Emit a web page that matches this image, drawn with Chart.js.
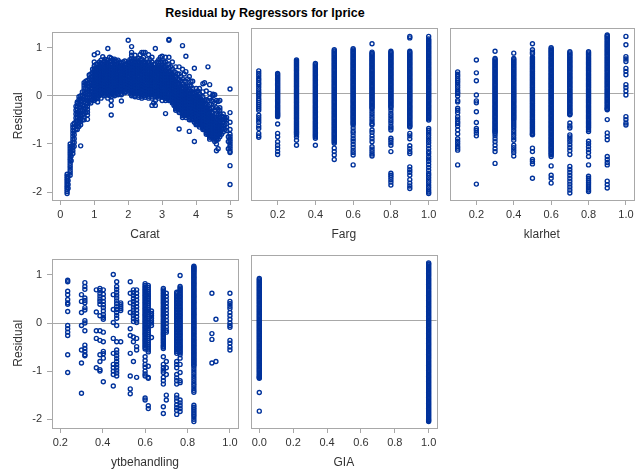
<!DOCTYPE html>
<html><head><meta charset="utf-8">
<script src="https://cdn.jsdelivr.net/npm/chart.js@4.4.1/dist/chart.umd.min.js"></script>
<style>
html,body{margin:0;padding:0;background:#fff;overflow:hidden}
body{width:636px;height:474px;position:relative;font-family:"Liberation Sans",Arial,sans-serif}
#title{position:absolute;left:0;width:530px;top:6px;text-align:center;font-weight:bold;font-size:12.5px;line-height:15px;color:#000}
canvas{position:absolute}
</style></head>
<body>
<div id="title">Residual by Regressors for lprice</div>
<canvas id="p1" width="245" height="230" style="left:0;top:20px"></canvas>
<canvas id="p2" width="195" height="230" style="left:245px;top:20px"></canvas>
<canvas id="p3" width="197" height="230" style="left:440px;top:20px"></canvas>
<canvas id="p4" width="245" height="227" style="left:0;top:247px"></canvas>
<canvas id="p5" width="195" height="227" style="left:245px;top:247px"></canvas>
<script>
// ---------- tick values / labels ----------
const yTicks = [-2, -1, 0, 1];
const yTickLabels = ['-2', '-1', '0', '1'];
const caratTicks = [0, 1, 2, 3, 4, 5];
const caratTickLabels = ['0', '1', '2', '3', '4', '5'];
const fracTicks = [0.2, 0.4, 0.6, 0.8, 1.0];
const fracTickLabels = ['0.2', '0.4', '0.6', '0.8', '1.0'];
const giaTicks = [0, 0.2, 0.4, 0.6, 0.8, 1.0];
const giaTickLabels = ['0.0', '0.2', '0.4', '0.6', '0.8', '1.0'];
const xTitles = ['Carat', 'Farg', 'klarhet', 'ytbehandling', 'GIA'];
const yTitle = 'Residual';
const chartTitle = 'Residual by Regressors for lprice';

// ---------- residuals, grouped by regressor value: [x, [residuals]] ----------
const caratCols = [
 [0.2,[-2.03,-1.99,-1.95,-1.91,-1.87,-1.83,-1.79,-1.75,-1.71,-1.67,-1.63]],
 [0.23,[-1.92,-1.84,-1.76,-1.68]],
 [0.29,[-1.65,-1.6,-1.55,-1.5,-1.45,-1.4,-1.35,-1.3,-1.25,-1.2,-1.15,-1.1,-1.05,-1.0]],
 [0.32,[-1.35,-1.25,-1.15,-1.05]],
 [0.37,[-1.2,-1.14,-1.08,-1.02,-0.96,-0.9,-0.84,-0.78,-0.72,-0.66,-0.6]],
 [0.41,[-1.05,-0.97,-0.89,-0.81,-0.73,-0.65,-0.57]],
 [0.46,[-0.7,-0.62,-0.54,-0.46,-0.38,-0.3,-0.22]],
 [0.5,[-0.7,-0.64,-0.58,-0.52,-0.46,-0.4,-0.34,-0.28,-0.22,-0.16,-0.13]],
 [0.55,[-0.64,-0.56,-0.48,-0.4,-0.32,-0.24,-0.16,-0.08,-0.02]],
 [0.6,[-1.04,-0.6,-0.54,-0.48,-0.42,-0.36,-0.3,-0.24,-0.18,-0.12,-0.06,0.0]],
 [0.65,[-0.5,-0.4,-0.3,-0.2,-0.1,0.0,0.08]],
 [0.7,[-0.5,-0.44,-0.38,-0.32,-0.26,-0.2,-0.14,-0.08,-0.02,0.04,0.1,0.16,0.22,0.27]],
 [0.75,[-0.35,-0.25,-0.15,-0.05,0.05,0.15,0.25,0.3]],
 [0.8,[-0.49,-0.4,-0.34,-0.28,-0.22,-0.16,-0.1,-0.04,0.02,0.08,0.14,0.2,0.26,0.32]],
 [0.85,[-0.13,-0.05,0.03,0.11,0.19,0.27,0.35,0.43]],
 [0.9,[-0.15,-0.09,-0.03,0.03,0.09,0.15,0.21,0.27,0.33,0.39,0.45]],
 [0.95,[-0.08,0.0,0.08,0.16,0.24,0.32,0.4,0.48,0.55]],
 [1.0,[-0.1,-0.04,0.02,0.08,0.14,0.2,0.26,0.32,0.38,0.44,0.5,0.56,0.62,0.7,0.85]],
 [1.05,[-0.05,0.05,0.15,0.25,0.35,0.45,0.55,0.65]],
 [1.1,[-0.13,-0.06,0.0,0.06,0.12,0.18,0.24,0.3,0.36,0.42,0.48,0.54,0.6,0.66,0.89]],
 [1.15,[0.0,0.1,0.2,0.3,0.4,0.5,0.6,0.7]],
 [1.2,[-0.05,0.02,0.08,0.14,0.2,0.26,0.32,0.38,0.44,0.5,0.56,0.62,0.68,0.74]],
 [1.25,[0.05,0.15,0.25,0.35,0.45,0.55,0.65,0.81]],
 [1.3,[0.0,0.06,0.12,0.18,0.24,0.3,0.36,0.42,0.48,0.54,0.6,0.66,0.72,0.76]],
 [1.35,[0.05,0.15,0.25,0.35,0.45,0.55,0.65,0.75]],
 [1.4,[-0.05,0.02,0.08,0.14,0.2,0.26,0.32,0.38,0.44,0.5,0.56,0.62,0.68,0.74,0.98]],
 [1.45,[0.0,0.1,0.2,0.3,0.4,0.5,0.6,0.7,0.8]],
 [1.5,[-0.4,-0.2,-0.1,-0.02,0.06,0.12,0.18,0.24,0.3,0.36,0.42,0.48,0.54,0.6,0.66,0.72,0.78]],
 [1.55,[0.05,0.15,0.25,0.35,0.45,0.55,0.65,0.75]],
 [1.6,[0.0,0.06,0.12,0.18,0.24,0.3,0.36,0.42,0.48,0.54,0.6,0.66,0.72,0.76]],
 [1.65,[0.05,0.15,0.25,0.35,0.45,0.55,0.65,0.72]],
 [1.7,[0.02,0.08,0.14,0.2,0.26,0.32,0.38,0.44,0.5,0.56,0.62,0.68,0.74]],
 [1.75,[0.1,0.2,0.3,0.4,0.5,0.6,0.7]],
 [1.8,[-0.11,0.02,0.08,0.14,0.2,0.26,0.32,0.38,0.44,0.5,0.56,0.62,0.68]],
 [1.85,[0.1,0.2,0.3,0.4,0.5,0.6,0.7]],
 [1.9,[0.06,0.12,0.18,0.24,0.3,0.36,0.42,0.48,0.54,0.6,0.66,0.72]],
 [1.95,[0.15,0.25,0.35,0.45,0.55,0.65]],
 [2.0,[0.1,0.16,0.22,0.28,0.34,0.4,0.46,0.52,0.58,0.64,0.7,1.15]],
 [2.05,[0.05,0.15,0.25,0.35,0.45,0.55,0.65,0.75]],
 [2.1,[0.0,0.06,0.12,0.18,0.24,0.3,0.36,0.42,0.48,0.54,0.6,0.66,0.72,0.78,0.84,0.9,1.02]],
 [2.15,[0.05,0.15,0.25,0.35,0.45,0.55,0.65,0.75]],
 [2.2,[-0.02,0.04,0.1,0.16,0.22,0.28,0.34,0.4,0.46,0.52,0.58,0.64,0.7,0.76,0.84]],
 [2.25,[0.05,0.15,0.25,0.35,0.45,0.55,0.65,0.75]],
 [2.3,[-0.03,0.04,0.1,0.16,0.22,0.28,0.34,0.4,0.46,0.52,0.58,0.64,0.7,0.78]],
 [2.35,[0.05,0.15,0.25,0.35,0.45,0.55,0.65,0.75,0.85]],
 [2.4,[-0.05,0.02,0.08,0.14,0.2,0.26,0.32,0.38,0.44,0.5,0.56,0.62,0.68,0.76,0.9]],
 [2.45,[0.0,0.1,0.2,0.3,0.4,0.5,0.6,0.7,0.8,0.9]],
 [2.5,[-0.03,0.04,0.1,0.16,0.22,0.28,0.34,0.4,0.46,0.52,0.58,0.64,0.7,0.9]],
 [2.55,[0.05,0.15,0.25,0.35,0.45,0.55,0.65,0.75]],
 [2.6,[-0.05,0.02,0.08,0.14,0.2,0.26,0.32,0.38,0.44,0.5,0.56,0.62,0.7,0.85]],
 [2.65,[0.05,0.15,0.25,0.35,0.45,0.55,0.65,0.75]],
 [2.7,[-0.2,-0.05,0.02,0.08,0.14,0.2,0.26,0.32,0.38,0.44,0.5,0.56,0.62,0.7,0.8]],
 [2.75,[-0.15,0.05,0.15,0.25,0.35,0.45,0.55,0.65]],
 [2.8,[-0.2,-0.1,-0.02,0.04,0.1,0.16,0.22,0.28,0.34,0.4,0.46,0.52,0.58,0.66,0.98]],
 [2.85,[0.0,0.1,0.2,0.3,0.4,0.5,0.6,0.7]],
 [2.9,[-0.05,0.02,0.08,0.14,0.2,0.26,0.32,0.38,0.44,0.5,0.56,0.62,0.7,0.75]],
 [2.95,[0.0,0.1,0.2,0.3,0.4,0.5,0.6,0.7,0.8]],
 [3.0,[-0.1,-0.03,0.03,0.09,0.15,0.21,0.27,0.33,0.39,0.45,0.51,0.57,0.63,0.7,0.82]],
 [3.05,[0.0,0.1,0.2,0.3,0.4,0.5,0.6,0.7]],
 [3.1,[-0.37,-0.1,-0.03,0.03,0.09,0.15,0.21,0.27,0.33,0.39,0.45,0.51,0.6,0.7,0.8]],
 [3.15,[-0.05,0.05,0.15,0.25,0.35,0.45,0.55,0.65]],
 [3.2,[-0.1,-0.04,0.02,0.08,0.14,0.2,0.26,0.32,0.38,0.44,0.5,0.58,0.66,0.8,1.15,1.17]],
 [3.25,[-0.1,0.0,0.1,0.2,0.3,0.4,0.5,0.6]],
 [3.3,[-0.15,-0.09,-0.03,0.03,0.09,0.15,0.21,0.27,0.33,0.39,0.45,0.55,0.7]],
 [3.35,[-0.2,-0.1,0.0,0.1,0.2,0.3,0.4,0.5]],
 [3.4,[-0.3,-0.24,-0.18,-0.12,-0.06,0.0,0.06,0.12,0.18,0.24,0.3,0.38,0.48,0.6]],
 [3.45,[-0.25,-0.15,-0.05,0.05,0.15,0.25,0.35,0.45]],
 [3.5,[-0.69,-0.35,-0.29,-0.23,-0.17,-0.11,-0.05,0.01,0.07,0.13,0.19,0.25,0.33,0.45,0.6]],
 [3.55,[-0.3,-0.2,-0.1,0.0,0.1,0.2,0.3,0.4]],
 [3.6,[-0.45,-0.38,-0.32,-0.26,-0.2,-0.14,-0.08,-0.02,0.04,0.1,0.16,0.24,0.35,0.55,1.04]],
 [3.65,[-0.4,-0.3,-0.2,-0.1,0.0,0.1,0.2,0.3,0.45]],
 [3.7,[-0.45,-0.38,-0.32,-0.26,-0.2,-0.14,-0.08,-0.02,0.04,0.1,0.18,0.3,0.5,0.82]],
 [3.75,[-0.4,-0.3,-0.2,-0.1,0.0,0.1,0.2,0.35]],
 [3.8,[-0.74,-0.5,-0.43,-0.37,-0.31,-0.25,-0.19,-0.13,-0.07,-0.01,0.05,0.12,0.22,0.4]],
 [3.85,[-0.5,-0.4,-0.3,-0.2,-0.1,0.0,0.1,0.2,0.3]],
 [3.9,[-0.5,-0.44,-0.38,-0.32,-0.26,-0.2,-0.14,-0.08,-0.02,0.05,0.15,0.3]],
 [3.95,[-0.95,-0.55,-0.45,-0.35,-0.25,-0.15,-0.05,0.05,0.57]],
 [4.0,[-0.6,-0.54,-0.48,-0.42,-0.36,-0.3,-0.24,-0.18,-0.12,-0.06,0.0,0.08,0.15]],
 [4.05,[-0.6,-0.5,-0.4,-0.3,-0.2,-0.1,0.0,0.1]],
 [4.1,[-0.65,-0.58,-0.52,-0.46,-0.4,-0.34,-0.28,-0.22,-0.16,-0.1,-0.04,0.04,0.15]],
 [4.15,[-0.6,-0.5,-0.4,-0.3,-0.2,-0.1,0.0]],
 [4.2,[-0.7,-0.64,-0.58,-0.52,-0.46,-0.4,-0.34,-0.28,-0.22,-0.16,-0.1,-0.02,0.08,0.25]],
 [4.25,[-0.7,-0.6,-0.5,-0.4,-0.3,-0.2,-0.1,0.27]],
 [4.3,[-0.8,-0.73,-0.67,-0.61,-0.55,-0.49,-0.43,-0.37,-0.31,-0.25,-0.18,-0.08,0.1]],
 [4.35,[-0.8,-0.7,-0.6,-0.5,-0.4,-0.3,-0.2,-0.1,0.6]],
 [4.4,[-0.9,-0.83,-0.77,-0.71,-0.65,-0.59,-0.53,-0.47,-0.41,-0.35,-0.28,-0.18,-0.05,0.05,0.23]],
 [4.45,[-0.85,-0.75,-0.65,-0.55,-0.45,-0.35,-0.25,-0.1]],
 [4.5,[-0.9,-0.84,-0.78,-0.72,-0.66,-0.6,-0.54,-0.48,-0.42,-0.35,-0.25,-0.12,0.0,0.03]],
 [4.55,[-0.95,-0.85,-0.75,-0.65,-0.55,-0.45,-0.3,-0.15,0.02]],
 [4.6,[-1.14,-1.0,-0.92,-0.86,-0.8,-0.74,-0.68,-0.62,-0.56,-0.48,-0.38,-0.25,-0.1]],
 [4.65,[-1.1,-0.9,-0.8,-0.7,-0.6,-0.5,-0.4,-0.28,-0.12]],
 [4.7,[-0.85,-0.78,-0.72,-0.66,-0.6,-0.54,-0.46,-0.38,-0.3,-0.25,-0.1]],
 [4.75,[-0.8,-0.7,-0.6,-0.5,-0.42]],
 [4.8,[-0.75,-0.68,-0.62,-0.56,-0.5,-0.44,-0.38]],
 [4.85,[-0.7,-0.6,-0.5,-0.46]],
 [4.9,[-0.72,-0.65,-0.58,-0.5,-0.45]],
 [4.95,[-0.85,-0.95,-1.1]],
 [5.0,[0.14,-0.35,-0.55,-0.7,-0.8,-0.85,-0.9,-0.95,-1.0,-1.05,-1.1,-1.15,-1.18,-1.45,-1.84]]
];
// further observations packed inside the dense core of the carat cloud
const caratDense = [
 [1.0,[-0.07,-0.01,0.05,0.11,0.17,0.23,0.29,0.35,0.41,0.47,0.53]],
 [1.1,[-0.03,0.03,0.09,0.15,0.21,0.27,0.33,0.39,0.45,0.51,0.57]],
 [1.2,[0.05,0.11,0.17,0.23,0.29,0.35,0.41,0.47,0.53,0.59,0.65]],
 [1.3,[0.03,0.09,0.15,0.21,0.27,0.33,0.39,0.45,0.51,0.57,0.63]],
 [1.4,[0.05,0.11,0.17,0.23,0.29,0.35,0.41,0.47,0.53,0.59,0.65]],
 [1.5,[0.03,0.09,0.15,0.21,0.27,0.33,0.39,0.45,0.51,0.57,0.63]],
 [1.6,[0.03,0.09,0.15,0.21,0.27,0.33,0.39,0.45,0.51,0.57,0.63]],
 [1.7,[0.05,0.11,0.17,0.23,0.29,0.35,0.41,0.47,0.53,0.59,0.65]],
 [1.8,[0.05,0.11,0.17,0.23,0.29,0.35,0.41,0.47,0.53,0.59]],
 [1.9,[0.09,0.15,0.21,0.27,0.33,0.39,0.45,0.51,0.57,0.63]],
 [2.0,[0.13,0.19,0.25,0.31,0.37,0.43,0.49,0.55,0.61,0.67]],
 [2.1,[0.03,0.09,0.15,0.21,0.27,0.33,0.39,0.45,0.51,0.57,0.63,0.69]],
 [2.2,[0.01,0.07,0.13,0.19,0.25,0.31,0.37,0.43,0.49,0.55,0.61,0.67]],
 [2.3,[0.01,0.07,0.13,0.19,0.25,0.31,0.37,0.43,0.49,0.55,0.61,0.67]],
 [2.4,[-0.01,0.05,0.11,0.17,0.23,0.29,0.35,0.41,0.47,0.53,0.59,0.65]],
 [2.5,[0.01,0.07,0.13,0.19,0.25,0.31,0.37,0.43,0.49,0.55,0.61,0.67]],
 [2.6,[-0.01,0.05,0.11,0.17,0.23,0.29,0.35,0.41,0.47,0.53,0.59]],
 [2.7,[-0.01,0.05,0.11,0.17,0.23,0.29,0.35,0.41,0.47,0.53,0.59]],
 [2.8,[0.01,0.07,0.13,0.19,0.25,0.31,0.37,0.43,0.49,0.55]],
 [2.9,[-0.01,0.05,0.11,0.17,0.23,0.29,0.35,0.41,0.47,0.53,0.59]],
 [3.0,[0.0,0.06,0.12,0.18,0.24,0.3,0.36,0.42,0.48,0.54,0.6]],
 [3.1,[-0.06,0.0,0.06,0.12,0.18,0.24,0.3,0.36,0.42,0.48]],
 [3.2,[-0.07,-0.01,0.05,0.11,0.17,0.23,0.29,0.35,0.41,0.47]],
 [3.3,[-0.12,-0.06,0.0,0.06,0.12,0.18,0.24,0.3,0.36,0.42]],
 [3.4,[-0.27,-0.21,-0.15,-0.09,-0.03,0.03,0.09,0.15,0.21,0.27,0.33]],
 [3.5,[-0.32,-0.26,-0.2,-0.14,-0.08,-0.02,0.04,0.1,0.16,0.22]],
 [3.6,[-0.41,-0.35,-0.29,-0.23,-0.17,-0.11,-0.05,0.01,0.07,0.13]],
 [3.7,[-0.41,-0.35,-0.29,-0.23,-0.17,-0.11,-0.05,0.01,0.07,0.14]],
 [3.8,[-0.46,-0.4,-0.34,-0.28,-0.22,-0.16,-0.1,-0.04,0.02,0.08]],
 [3.9,[-0.47,-0.41,-0.35,-0.29,-0.23,-0.17,-0.11,-0.05,0.02]],
 [4.0,[-0.57,-0.51,-0.45,-0.39,-0.33,-0.27,-0.21,-0.15,-0.09,-0.03,0.04]],
 [4.1,[-0.61,-0.55,-0.49,-0.43,-0.37,-0.31,-0.25,-0.19,-0.13,-0.07]],
 [4.2,[-0.67,-0.61,-0.55,-0.49,-0.43,-0.37,-0.31,-0.25,-0.19,-0.13]],
 [4.3,[-0.76,-0.7,-0.64,-0.58,-0.52,-0.46,-0.4,-0.34,-0.28]],
 [4.4,[-0.86,-0.8,-0.74,-0.68,-0.62,-0.56,-0.5,-0.44,-0.38]],
 [4.5,[-0.87,-0.81,-0.75,-0.69,-0.63,-0.57,-0.51,-0.45]],
 [4.6,[-0.89,-0.83,-0.77,-0.71,-0.65,-0.59,-0.52]],
 [4.7,[-0.81,-0.75,-0.69,-0.63,-0.57,-0.5]]
];

const fargCols = [
 [0.1,[0.46,0.41,0.36,0.31,0.27,0.22,0.18,0.13,0.08,0.03,-0.01,-0.05,-0.1,-0.14,-0.18,-0.22,-0.26,-0.3,-0.34,-0.44,-0.49,-0.54,-0.59,-0.66,-0.71,-0.81,-0.86,-0.89]],
 [0.2,[0.41,0.36,0.31,0.26,0.21,0.16,0.11,0.06,0.01,-0.04,-0.09,-0.14,-0.19,-0.24,-0.29,-0.34,-0.39,-0.43,-0.47,-0.62,-0.81,-0.88,-0.98,-1.05,-1.11,-1.18,-1.24]],
 [0.3,[0.68,0.63,0.58,0.53,0.48,0.43,0.38,0.33,0.28,0.23,0.18,0.13,0.08,0.03,-0.02,-0.07,-0.12,-0.17,-0.22,-0.27,-0.32,-0.37,-0.42,-0.47,-0.52,-0.57,-0.62,-0.67,-0.72,-0.77,-0.81,-0.84,-0.88,-0.95,-1.05]],
 [0.4,[0.61,0.56,0.51,0.46,0.41,0.36,0.31,0.26,0.21,0.16,0.11,0.06,0.01,-0.04,-0.09,-0.14,-0.19,-0.24,-0.29,-0.34,-0.39,-0.44,-0.49,-0.54,-0.59,-0.64,-0.69,-0.74,-0.79,-0.84,-0.88,-0.91,-1.05]],
 [0.5,[0.89,0.84,0.79,0.74,0.69,0.64,0.59,0.54,0.49,0.44,0.39,0.34,0.29,0.24,0.19,0.14,0.09,0.04,-0.01,-0.06,-0.11,-0.16,-0.21,-0.26,-0.31,-0.36,-0.41,-0.46,-0.51,-0.56,-0.61,-0.66,-0.71,-0.76,-0.81,-0.86,-0.91,-0.96,-1.01,-1.11,-1.18,-1.25,-1.34]],
 [0.6,[0.91,0.86,0.81,0.76,0.71,0.66,0.61,0.56,0.51,0.46,0.41,0.36,0.31,0.26,0.21,0.16,0.11,0.06,0.01,-0.04,-0.09,-0.14,-0.19,-0.24,-0.29,-0.34,-0.39,-0.44,-0.49,-0.54,-0.59,-0.64,-0.7,-0.76,-0.8,-0.86,-0.92,-0.97,-1.03,-1.09,-1.15,-1.2,-1.25,-1.45]],
 [0.7,[1.01,0.84,0.79,0.74,0.69,0.64,0.59,0.54,0.49,0.44,0.39,0.34,0.29,0.24,0.19,0.14,0.09,0.04,-0.01,-0.06,-0.11,-0.16,-0.21,-0.26,-0.31,-0.36,-0.41,-0.46,-0.51,-0.56,-0.61,-0.64,-0.74,-0.79,-0.86,-0.92,-0.98,-1.08,-1.13,-1.18,-1.23,-1.27]],
 [0.8,[0.86,0.81,0.76,0.71,0.66,0.61,0.56,0.51,0.46,0.41,0.36,0.31,0.26,0.21,0.16,0.11,0.06,0.01,-0.04,-0.09,-0.14,-0.19,-0.24,-0.29,-0.34,-0.4,-0.45,-0.5,-0.55,-0.6,-0.66,-0.7,-0.74,-0.91,-0.95,-1.0,-1.05,-1.18,-1.62,-1.66,-1.7,-1.75,-1.8,-1.86]],
 [0.9,[1.16,1.13,0.86,0.81,0.76,0.71,0.66,0.61,0.56,0.51,0.46,0.41,0.36,0.31,0.26,0.21,0.16,0.11,0.06,0.01,-0.04,-0.09,-0.14,-0.19,-0.24,-0.29,-0.34,-0.39,-0.44,-0.49,-0.54,-0.59,-0.64,-0.68,-0.81,-0.86,-0.92,-1.06,-1.12,-1.18,-1.22,-1.49,-1.55,-1.6,-1.66,-1.75,-1.82,-1.88,-1.93]],
 [1.0,[1.16,1.11,1.06,1.01,0.96,0.91,0.86,0.81,0.76,0.71,0.66,0.61,0.56,0.51,0.46,0.41,0.36,0.31,0.26,0.21,0.16,0.11,0.06,0.01,-0.04,-0.09,-0.14,-0.19,-0.24,-0.29,-0.34,-0.39,-0.44,-0.49,-0.54,-0.71,-0.75,-0.8,-0.85,-0.9,-0.95,-1.0,-1.06,-1.12,-1.18,-1.22,-1.28,-1.33,-1.38,-1.44,-1.5,-1.56,-1.62,-1.66,-1.71,-1.76,-1.81,-1.86,-1.91,-1.96,-2.0,-2.03]]
];
const fargDense = [
 [0.2,[0.385,0.335,0.285,0.235,0.185,0.135,0.085,0.035,-0.015,-0.065,-0.115,-0.165,-0.215,-0.265,-0.315,-0.365,-0.41,-0.45]],
 [0.3,[0.655,0.605,0.555,0.505,0.455,0.405,0.355,0.305,0.255,0.205,0.155,0.105,0.055,0.005,-0.045,-0.095,-0.145,-0.195,-0.245,-0.295,-0.345,-0.395,-0.445,-0.495,-0.545,-0.595,-0.645,-0.695,-0.745,-0.79]],
 [0.4,[0.585,0.535,0.485,0.435,0.385,0.335,0.285,0.235,0.185,0.135,0.085,0.035,-0.015,-0.065,-0.115,-0.165,-0.215,-0.265,-0.315,-0.365,-0.415,-0.465,-0.515,-0.565,-0.615,-0.665,-0.715,-0.765,-0.815,-0.86]],
 [0.5,[0.865,0.815,0.765,0.715,0.665,0.615,0.565,0.515,0.465,0.415,0.365,0.315,0.265,0.215,0.165,0.115,0.065,0.015,-0.035,-0.085,-0.135,-0.185,-0.235,-0.285,-0.335,-0.385,-0.435,-0.485,-0.535,-0.585,-0.635,-0.685,-0.735,-0.785,-0.835,-0.885,-0.935,-0.985]],
 [0.6,[0.885,0.835,0.785,0.735,0.685,0.635,0.585,0.535,0.485,0.435,0.385,0.335,0.285,0.235,0.185,0.135,0.085,0.035,-0.015,-0.065,-0.115,-0.165,-0.215,-0.265,-0.315,-0.365,-0.415,-0.465,-0.515,-0.565,-0.615]],
 [0.7,[0.815,0.765,0.715,0.665,0.615,0.565,0.515,0.465,0.415,0.365,0.315,0.265,0.215,0.165,0.115,0.065,0.015,-0.035,-0.085,-0.135,-0.185,-0.235,-0.285]],
 [0.8,[0.835,0.785,0.735,0.685,0.635,0.585,0.535,0.485,0.435,0.385,0.335,0.285,0.235,0.185,0.135,0.085,0.035,-0.015,-0.065,-0.115,-0.165,-0.215,-0.265]],
 [0.9,[0.835,0.785,0.735,0.685,0.635,0.585,0.535,0.485,0.435,0.385,0.335,0.285,0.235,0.185,0.135,0.085,0.035,-0.015,-0.065,-0.115,-0.165,-0.215,-0.265,-0.315,-0.365,-0.415,-0.465,-0.515,-0.565,-0.615,-0.66]],
 [1.0,[1.085,1.035,0.985,0.935,0.885,0.835,0.785,0.735,0.685,0.635,0.585,0.535,0.485,0.435,0.385,0.335,0.285,0.235,0.185,0.135,0.085,0.035,-0.015,-0.065,-0.115,-0.165,-0.215,-0.265,-0.315,-0.365,-0.415,-0.465,-0.515]]
];

const klarhetCols = [
 [0.1,[0.44,0.39,0.35,0.3,0.26,0.22,0.17,0.12,0.07,0.03,0.0,-0.05,-0.14,-0.17,-0.3,-0.34,-0.39,-0.47,-0.52,-0.57,-0.61,-0.66,-0.74,-0.82,-0.92,-0.97,-1.02,-1.07,-1.11,-1.15,-1.45]],
 [0.2,[0.68,0.42,0.26,-0.03,-0.15,-0.19,-0.37,-0.59,-0.71,-0.75,-0.8,-0.86,-1.84]],
 [0.3,[0.86,0.71,0.66,0.61,0.56,0.51,0.46,0.41,0.36,0.31,0.26,0.21,0.16,0.11,0.06,0.01,-0.04,-0.09,-0.14,-0.19,-0.24,-0.29,-0.34,-0.39,-0.44,-0.49,-0.54,-0.59,-0.64,-0.69,-0.74,-0.78,-0.81,-0.86,-0.92,-0.98,-1.05,-1.12,-1.18,-1.42]],
 [0.4,[0.82,0.71,0.66,0.61,0.56,0.51,0.46,0.41,0.36,0.31,0.26,0.21,0.16,0.11,0.06,0.01,-0.04,-0.09,-0.14,-0.19,-0.24,-0.29,-0.34,-0.39,-0.44,-0.49,-0.54,-0.58,-0.62,-0.66,-0.7,-0.75,-0.8,-0.85,-0.9,-0.95,-1.05,-1.1,-1.15,-1.2,-1.27]],
 [0.5,[1.01,0.89,0.84,0.81,0.74,0.69,0.64,0.59,0.54,0.49,0.44,0.39,0.34,0.29,0.24,0.19,0.14,0.09,0.04,-0.01,-0.06,-0.11,-0.16,-0.21,-0.26,-0.31,-0.36,-0.41,-0.46,-0.51,-0.56,-0.61,-0.66,-0.71,-0.76,-0.81,-0.84,-1.11,-1.18,-1.34,-1.38,-1.43,-1.72]],
 [0.6,[0.93,0.88,0.83,0.78,0.73,0.68,0.63,0.58,0.53,0.48,0.43,0.38,0.33,0.28,0.23,0.18,0.13,0.08,0.03,-0.02,-0.07,-0.12,-0.17,-0.22,-0.27,-0.32,-0.37,-0.42,-0.47,-0.52,-0.57,-0.62,-0.67,-0.72,-0.77,-0.82,-0.87,-0.92,-0.97,-1.02,-1.07,-1.12,-1.17,-1.22,-1.28,-1.47,-1.66,-1.72,-1.82]],
 [0.7,[0.85,0.8,0.75,0.7,0.65,0.6,0.55,0.5,0.45,0.4,0.35,0.3,0.25,0.2,0.15,0.1,0.05,0.0,-0.05,-0.1,-0.15,-0.2,-0.25,-0.3,-0.35,-0.4,-0.43,-0.6,-0.66,-0.7,-0.84,-0.88,-0.93,-0.98,-1.04,-1.1,-1.16,-1.24,-1.48,-1.54,-1.6,-1.66,-1.72,-1.78,-1.84,-1.9,-1.96,-2.02]],
 [0.8,[0.85,0.8,0.75,0.7,0.65,0.6,0.55,0.5,0.45,0.4,0.35,0.3,0.25,0.2,0.15,0.1,0.05,0.0,-0.05,-0.1,-0.15,-0.2,-0.25,-0.3,-0.35,-0.4,-0.45,-0.5,-0.55,-0.6,-0.65,-0.7,-0.77,-0.97,-1.02,-1.08,-1.14,-1.2,-1.28,-1.45,-1.68,-1.72,-1.76,-1.8,-1.84,-1.88,-1.92,-1.96,-1.99]],
 [0.9,[1.19,1.15,1.1,1.05,1.0,0.95,0.9,0.85,0.8,0.75,0.7,0.65,0.6,0.55,0.5,0.45,0.4,0.35,0.3,0.25,0.2,0.15,0.1,0.05,0.0,-0.05,-0.1,-0.15,-0.2,-0.25,-0.3,-0.33,-0.53,-0.8,-0.87,-0.94,-1.28,-1.34,-1.4,-1.45,-1.78,-1.85,-1.92]],
 [1.0,[1.16,0.99,0.75,0.7,0.65,0.51,0.45,0.38,0.18,0.12,0.05,-0.03,-0.47,-0.53,-0.6,-0.64]]
];
const klarhetDense = [
 [0.3,[0.685,0.635,0.585,0.535,0.485,0.435,0.385,0.335,0.285,0.235,0.185,0.135,0.085,0.035,-0.015,-0.065,-0.115,-0.165,-0.215,-0.265,-0.315,-0.365,-0.415,-0.465,-0.515,-0.565,-0.615,-0.665,-0.715,-0.76]],
 [0.4,[0.685,0.635,0.585,0.535,0.485,0.435,0.385,0.335,0.285,0.235,0.185,0.135,0.085,0.035,-0.015,-0.065,-0.115,-0.165,-0.215,-0.265,-0.315,-0.365,-0.415,-0.465,-0.515]],
 [0.5,[0.715,0.665,0.615,0.565,0.515,0.465,0.415,0.365,0.315,0.265,0.215,0.165,0.115,0.065,0.015,-0.035,-0.085,-0.135,-0.185,-0.235,-0.285,-0.335,-0.385,-0.435,-0.485,-0.535,-0.585,-0.635,-0.685,-0.735,-0.785,-0.825]],
 [0.6,[0.905,0.855,0.805,0.755,0.705,0.655,0.605,0.555,0.505,0.455,0.405,0.355,0.305,0.255,0.205,0.155,0.105,0.055,0.005,-0.045,-0.095,-0.145,-0.195,-0.245,-0.295,-0.345,-0.395,-0.445,-0.495,-0.545,-0.595,-0.645,-0.695,-0.745,-0.795,-0.845,-0.895,-0.945,-0.995,-1.045,-1.095,-1.145,-1.195,-1.245]],
 [0.7,[0.825,0.775,0.725,0.675,0.625,0.575,0.525,0.475,0.425,0.375,0.325,0.275,0.225,0.175,0.125,0.075,0.025,-0.025,-0.075,-0.125,-0.175,-0.225,-0.275,-0.325,-0.375,-0.415]],
 [0.8,[0.825,0.775,0.725,0.675,0.625,0.575,0.525,0.475,0.425,0.375,0.325,0.275,0.225,0.175,0.125,0.075,0.025,-0.025,-0.075,-0.125,-0.175,-0.225,-0.275,-0.325,-0.375,-0.425,-0.475,-0.525,-0.575,-0.625,-0.675,-0.735]],
 [0.9,[1.17,1.125,1.075,1.025,0.975,0.925,0.875,0.825,0.775,0.725,0.675,0.625,0.575,0.525,0.475,0.425,0.375,0.325,0.275,0.225,0.175,0.125,0.075,0.025,-0.025,-0.075,-0.125,-0.175,-0.225,-0.275,-0.315]]
];

const ytbCols = [
 [0.235,[0.89,0.86,0.66,0.59,0.49,0.42,0.39,0.24,-0.05,-0.12,-0.19,-0.26,-0.66,-1.03]],
 [0.30,[0.59,0.45,0.22,-0.05,-0.56,-0.83,-1.46]],
 [0.316,[0.84,0.76,0.7,0.52,0.47,0.42,0.32,0.27,0.05,0.0,-0.16,-0.46,-0.53,-0.59,-0.66,-0.68]],
 [0.37,[0.69,0.23,-0.16,-0.32,-0.93]],
 [0.387,[0.72,0.68,0.62,0.56,0.5,0.45,0.39,0.15,-0.16,-0.36,-0.66,-0.8,-0.97,-1.0]],
 [0.403,[0.69,0.6,0.52,0.45,0.38,0.32,0.25,0.18,0.12,0.08,-0.19,-0.39,-0.59,-0.64,-0.73,-1.22]],
 [0.45,[1.01,0.59,0.28,0.01,-0.32,-0.63,-0.86,-0.93,-1.0,-1.07,-1.31]],
 [0.466,[0.86,0.76,0.7,0.64,0.58,0.52,0.46,0.4,0.34,0.28,0.22,0.16,0.1,-0.05,-0.39,-0.56,-0.62,-0.68,-0.74,-0.8,-0.86,-0.92,-0.98,-1.04,-1.1]],
 [0.485,[0.42,0.38,0.34,0.3,0.26,-0.39]],
 [0.53,[0.86,0.62,0.42,0.22,-0.12,-0.26,-0.63,-1.1,-1.37,-1.47]],
 [0.545,[0.69,0.63,0.57,0.51,0.45,0.39,0.33,0.27,0.21,0.15,0.09,0.03,-0.29,-0.39,-0.8]],
 [0.56,[0.69,0.62,0.55,0.48,0.41,0.34,0.27,0.2,0.13,0.06,0.01,-0.32,-0.49,-0.56,-1.13]],
 [0.60,[0.82,0.78,0.72,0.66,0.6,0.54,0.48,0.42,0.36,0.3,0.24,0.18,0.12,0.06,0.0,-0.06,-0.12,-0.18,-0.24,-0.3,-0.36,-0.42,-0.48,-0.54,-0.7,-0.78,-0.86,-0.92,-1.0,-1.06,-1.1,-1.56,-1.6]],
 [0.615,[0.78,0.7,0.62,0.55,0.48,0.4,0.32,0.25,0.18,0.1,0.02,-0.05,-0.12,-0.2,-0.28,-0.36,-0.44,-0.52,-0.6,-0.9,-1.13,-1.15,-1.72,-1.78]],
 [0.63,[0.25,0.2,0.15,0.1,0.05,0.0,-0.05,-0.3]],
 [0.686,[0.72,0.66,0.6,0.54,0.48,0.42,0.36,0.3,0.24,0.18,0.12,0.06,0.0,-0.06,-0.12,-0.18,-0.24,-0.3,-0.36,-0.42,-0.48,-0.53,-0.7,-0.86,-0.93,-0.98,-1.03,-1.13,-1.2,-1.27,-1.74,-1.88]],
 [0.70,[0.62,0.55,0.48,0.41,0.34,0.27,0.2,0.13,0.06,-0.01,-0.08,-0.15,-0.19,-0.8,-0.93,-1.07,-1.5,-1.6]],
 [0.749,[0.64,0.58,0.52,0.46,0.4,0.34,0.28,0.22,0.16,0.1,0.04,-0.02,-0.08,-0.14,-0.2,-0.26,-0.32,-0.38,-0.44,-0.5,-0.56,-0.63,-0.8,-0.86,-0.93,-1.07,-1.14,-1.2,-1.27,-1.5,-1.56,-1.62,-1.7,-1.76,-1.82,-1.9]],
 [0.765,[0.99,0.76,0.7,0.64,0.58,0.52,0.46,0.4,0.34,0.28,0.22,0.16,0.1,0.04,-0.02,-0.08,-0.14,-0.2,-0.26,-0.32,-0.38,-0.44,-0.5,-0.56,-0.62,-0.66,-0.73,-0.86,-1.03,-1.2,-1.24,-1.6,-1.66,-1.72,-1.78,-1.84]],
 [0.83,[1.18,1.14,1.1,1.05,1.0,0.95,0.9,0.85,0.8,0.75,0.7,0.65,0.6,0.55,0.5,0.45,0.4,0.35,0.3,0.25,0.2,0.15,0.1,0.05,0.0,-0.05,-0.1,-0.15,-0.2,-0.25,-0.3,-0.35,-0.4,-0.45,-0.5,-0.55,-0.6,-0.65,-0.7,-0.75,-0.8,-0.85,-0.9,-0.95,-1.0,-1.05,-1.1,-1.15,-1.2,-1.25,-1.3,-1.35,-1.4,-1.44,-1.71,-1.75,-1.79,-1.83,-1.87,-1.91,-1.95,-2.0,-2.05]],
 [0.915,[0.62,-0.22,-0.34,-0.83]],
 [0.934,[0.08,-0.8]],
 [1.0,[0.62,0.45,0.4,0.35,0.3,0.22,0.15,0.08,0.0,-0.05,-0.09,-0.36,-0.42,-0.5,-0.56]]
];
const ytbDense = [
 [0.60,[0.75,0.69,0.63,0.57,0.51,0.45,0.39,0.33,0.27,0.21,0.15,0.09,0.03,-0.03,-0.09,-0.15,-0.21,-0.27,-0.33,-0.39,-0.45,-0.51]],
 [0.615,[0.74,0.66,0.585,0.515,0.44,0.36,0.285,0.215,0.14,0.06,-0.015,-0.085,-0.16,-0.24,-0.32,-0.4,-0.48,-0.56]],
 [0.686,[0.69,0.63,0.57,0.51,0.45,0.39,0.33,0.27,0.21,0.15,0.09,0.03,-0.03,-0.09,-0.15,-0.21,-0.27,-0.33,-0.39,-0.45,-0.5]],
 [0.749,[0.61,0.55,0.49,0.43,0.37,0.31,0.25,0.19,0.13,0.07,0.01,-0.05,-0.11,-0.17,-0.23,-0.29,-0.35,-0.41,-0.47,-0.53,-0.59]],
 [0.765,[0.73,0.67,0.61,0.55,0.49,0.43,0.37,0.31,0.25,0.19,0.13,0.07,0.01,-0.05,-0.11,-0.17,-0.23,-0.29,-0.35,-0.41,-0.47,-0.53,-0.59]],
 [0.83,[1.16,1.12,1.075,1.025,0.975,0.925,0.875,0.825,0.775,0.725,0.675,0.625,0.575,0.525,0.475,0.425,0.375,0.325,0.275,0.225,0.175,0.125,0.075,0.025,-0.025,-0.075,-0.125,-0.175,-0.225,-0.275,-0.325,-0.375,-0.425,-0.475,-0.525,-0.575,-0.625,-0.675,-0.725,-0.775,-0.825,-0.875]]
];

const giaCols = [
 [0,[0.86,0.81,0.76,0.71,0.66,0.61,0.56,0.51,0.46,0.41,0.36,0.31,0.26,0.21,0.16,0.11,0.06,0.01,-0.04,-0.09,-0.14,-0.19,-0.24,-0.29,-0.34,-0.39,-0.44,-0.49,-0.54,-0.59,-0.64,-0.69,-0.74,-0.79,-0.84,-0.89,-0.94,-0.99,-1.04,-1.09,-1.14,-1.17,-1.46,-1.84]],
 [1,[1.18,1.14,1.09,1.04,0.99,0.94,0.89,0.84,0.79,0.74,0.69,0.64,0.59,0.54,0.49,0.44,0.39,0.34,0.29,0.24,0.19,0.14,0.09,0.04,-0.01,-0.06,-0.11,-0.16,-0.21,-0.26,-0.31,-0.36,-0.41,-0.46,-0.51,-0.56,-0.61,-0.66,-0.71,-0.76,-0.81,-0.86,-0.91,-0.96,-1.01,-1.06,-1.11,-1.16,-1.21,-1.26,-1.31,-1.36,-1.41,-1.46,-1.51,-1.56,-1.61,-1.66,-1.71,-1.76,-1.81,-1.86,-1.91,-1.96,-2.01,-2.05]]
];
const giaDense = [
 [0,[0.835,0.785,0.735,0.685,0.635,0.585,0.535,0.485,0.435,0.385,0.335,0.285,0.235,0.185,0.135,0.085,0.035,-0.015,-0.065,-0.115,-0.165,-0.215,-0.265,-0.315,-0.365,-0.415,-0.465,-0.515,-0.565,-0.615,-0.665,-0.715,-0.765,-0.815,-0.865,-0.915,-0.965,-1.015,-1.065,-1.115,-1.155]],
 [1,[1.16,1.115,1.065,1.015,0.965,0.915,0.865,0.815,0.765,0.715,0.665,0.615,0.565,0.515,0.465,0.415,0.365,0.315,0.265,0.215,0.165,0.115,0.065,0.015,-0.035,-0.085,-0.135,-0.185,-0.235,-0.285,-0.335,-0.385,-0.435,-0.485,-0.535,-0.585,-0.635,-0.685,-0.735,-0.785,-0.835,-0.885,-0.935,-0.985,-1.035,-1.085,-1.135,-1.185,-1.235,-1.285,-1.335,-1.385,-1.435,-1.485,-1.535,-1.585,-1.635,-1.685,-1.735,-1.785,-1.835,-1.885,-1.935,-1.985,-2.03]]
];

// ---------- styling ----------
const FONT = '"Liberation Sans", Arial, sans-serif';
const MARK = 'rgb(0,50,155)';
const FRAME = '#A8A8A8';
const TXT = '#333333';

const framePlugin = {
  id: 'frame',
  beforeDatasetsDraw(chart) {
    const {ctx, chartArea: a} = chart;
    ctx.save();
    ctx.strokeStyle = FRAME;
    ctx.lineWidth = 1;
    const l = Math.round(a.left) + 0.5, t = Math.round(a.top) + 0.5;
    const r = Math.round(a.right) + 0.5, b = Math.round(a.bottom) + 0.5;
    ctx.strokeRect(l, t, r - l, b - t);
    ctx.restore();
  }
};

function makePanel(id, cols, xTicks, xLabels, xTitle, showY, L) {
  const pts = cols.flatMap(([x, ys]) => ys.map(y => ({x, y})));
  new Chart(document.getElementById(id), {
    type: 'scatter',
    data: {datasets: [{
      data: pts, pointStyle: 'circle', pointRadius: 2, pointBorderWidth: 1.4,
      pointBackgroundColor: 'rgba(0,0,0,0)', pointBorderColor: MARK, pointHoverRadius: 2
    }]},
    options: {
      responsive: false, animation: false, events: [],
      layout: {padding: {top: L.pt, right: L.pr, left: 0, bottom: 0}},
      plugins: {legend: {display: false}, tooltip: {enabled: false}},
      scales: {
        x: {
          type: 'linear', position: 'bottom', min: L.xmin, max: L.xmax,
          afterBuildTicks: s => { s.ticks = xTicks.map(v => ({value: v})); },
          afterFit: s => { s.height = L.xh; },
          ticks: {autoSkip: false, maxRotation: 0, padding: 3, color: TXT,
                  font: {family: FONT, size: 11}, callback: (v, i) => xLabels[i]},
          grid: {drawOnChartArea: false, drawTicks: true, tickLength: 5, tickColor: FRAME, color: FRAME},
          border: {display: false},
          title: {display: true, text: xTitle, color: TXT, font: {family: FONT, size: 12},
                  padding: {top: 0, bottom: L.xtb}}
        },
        y: {
          type: 'linear', position: 'left', min: L.ymin, max: L.ymax,
          afterBuildTicks: s => { s.ticks = yTicks.map(v => ({value: v})); },
          afterFit: s => { s.width = L.yw; },
          ticks: {display: showY, padding: 5, color: TXT, font: {family: FONT, size: 11},
                  callback: (v, i) => yTickLabels[i]},
          grid: {drawOnChartArea: true, drawTicks: showY, tickLength: 5, tickColor: FRAME,
                 color: c => (c.tick && c.tick.value === 0) ? FRAME : 'rgba(0,0,0,0)'},
          border: {display: false},
          title: {display: showY, text: yTitle, color: TXT, font: {family: FONT, size: 12},
                  padding: {top: 11, bottom: 0}}
        }
      }
    },
    plugins: [framePlugin]
  });
}

const row1 = {pt: 8, xh: 50, xtb: 8, ymin: -2.163, ymax: 1.331};
const row2 = {pt: 8, xh: 46, xtb: 4, ymin: -2.183, ymax: 1.340};
document.getElementById('title').textContent = chartTitle;
makePanel('p1', caratCols.concat(caratDense), caratTicks, caratTickLabels, xTitles[0], true,
  Object.assign({}, row1, {pr: 7, yw: 52, xmin: -0.245, xmax: 5.235}));
makePanel('p2', fargCols.concat(fargDense), fracTicks, fracTickLabels, xTitles[1], false,
  Object.assign({}, row1, {pr: 3, yw: 6, xmin: 0.059, xmax: 1.042}));
makePanel('p3', klarhetCols.concat(klarhetDense), fracTicks, fracTickLabels, xTitles[2], false,
  Object.assign({}, row1, {pr: 1, yw: 10, xmin: 0.059, xmax: 1.041}));
makePanel('p4', ytbCols.concat(ytbDense), fracTicks, fracTickLabels, xTitles[3], true,
  Object.assign({}, row2, {pr: 7, yw: 52, xmin: 0.161, xmax: 1.038}));
makePanel('p5', giaCols.concat(giaDense), giaTicks, giaTickLabels, xTitles[4], false,
  Object.assign({}, row2, {pr: 3, yw: 6, xmin: -0.049, xmax: 1.047}));
</script>
</body></html>
